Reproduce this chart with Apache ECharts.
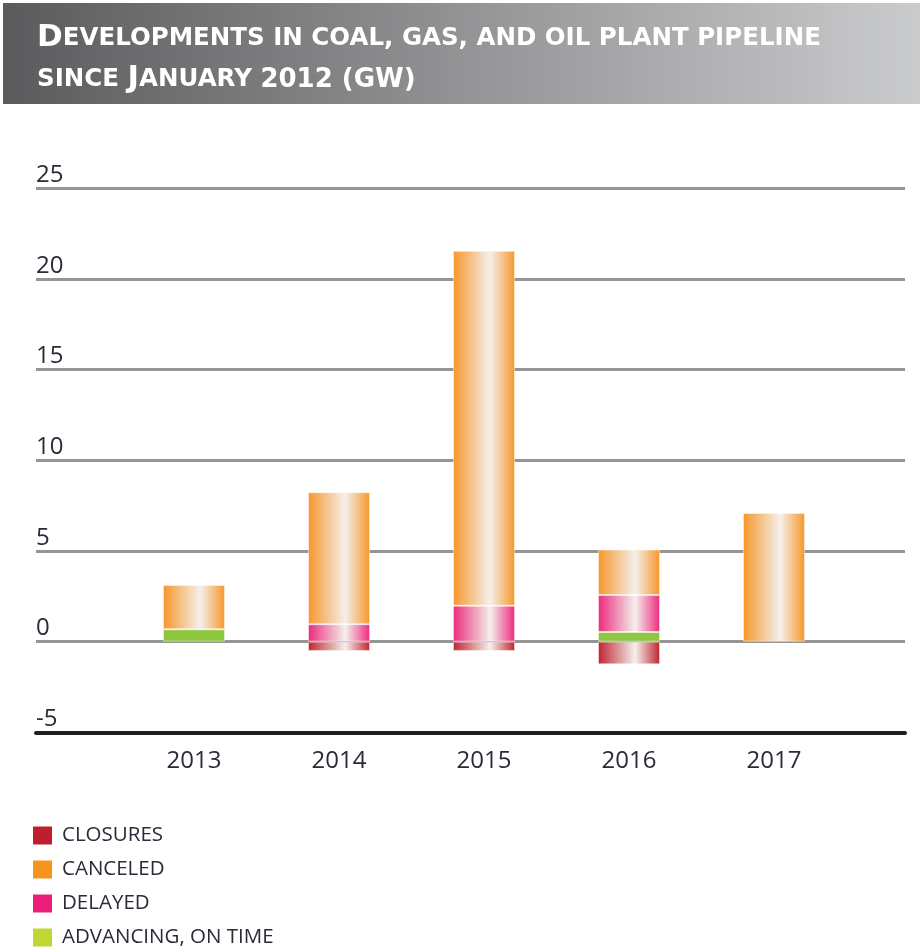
<!DOCTYPE html>
<html>
<head>
<meta charset="utf-8">
<script src="https://cdn.jsdelivr.net/npm/echarts@6/dist/echarts.min.js"></script>
<style>
  html, body { margin: 0; padding: 0; background: #fff; }
  #chart { width: 920px; height: 951px; }
</style>
</head>
<body>
<div id="chart"></div>
<script>
// Pipeline developments by year (GW)
const years = ['2013', '2014', '2015', '2016', '2017'];
const advancing = [0.68, null, null, 0.53, null];
const delayed = [null, 0.96, 1.98, 2.04, null];
const canceled = [2.45, 7.28, 19.57, 2.51, 7.1];
const closures = [null, -0.51, -0.51, -1.25, null];

const yTicks = { min: -5, max: 25, interval: 5 };

const names = ['CLOSURES', 'CANCELED', 'DELAYED', 'ADVANCING, ON TIME'];
const swatch = ['#be1e2d', '#f7941d', '#ed1e79', '#bfd730'];

function shine(base) {
  return {
    type: 'linear', x: 0, y: 0, x2: 1, y2: 0,
    colorStops: [
      { offset: 0, color: base },
      { offset: 0.6, color: '#f4f0ec' },
      { offset: 1, color: base }
    ]
  };
}

const labelFont = "'Open Sans', 'Noto Sans', sans-serif";
const titleFont = "'DejaVu Sans', 'Open Sans', sans-serif";

const chart = echarts.init(document.getElementById('chart'), null, { renderer: 'canvas' });

const barStyle = (color) => ({ color: color, borderColor: 'rgba(255,255,255,0.45)', borderWidth: 1 });

chart.setOption({
  animation: false,
  backgroundColor: '#ffffff',
  graphic: [
    {
      type: 'rect', z: 0,
      shape: { x: 3, y: 3, width: 917, height: 101 },
      style: {
        fill: {
          type: 'linear', x: 0, y: 0, x2: 1, y2: 0,
          colorStops: [
            { offset: 0, color: '#5b5b5d' },
            { offset: 1, color: '#cacbcd' }
          ]
        }
      }
    },
    {
      type: 'text', z: 2, left: 37, top: 22,
      style: {
        text: '{c|D}{s|EVELOPMENTS IN COAL, GAS, AND OIL PLANT PIPELINE}\n{s|SINCE }{c|J}{s|ANUARY }{n|2012 (GW)}',
        fill: '#ffffff',
        rich: {
          c: { fontSize: 31, fontFamily: titleFont, fontWeight: 'bold', fill: '#fff', lineHeight: 41, verticalAlign: 'bottom' },
          s: { fontSize: 24.5, fontFamily: titleFont, fontWeight: 'bold', fill: '#fff', lineHeight: 41, verticalAlign: 'bottom', padding: [0, 0, 1.5, 0] },
          n: { fontSize: 26, fontFamily: titleFont, fontWeight: 'bold', fill: '#fff', lineHeight: 41, verticalAlign: 'bottom', padding: [0, 0, 1.2, 0] }
        }
      }
    }
  ],
  legend: {
    orient: 'vertical',
    left: 33, top: 825, height: 130,
    padding: 0,
    icon: 'rect',
    itemWidth: 19, itemHeight: 18,
    itemGap: 13,
    textStyle: { fontFamily: labelFont, fontSize: 20.5, lineHeight: 18, color: '#2b2a38', padding: [0, 0, 0, 5] },
    data: names.map((n, i) => ({ name: n, itemStyle: { color: swatch[i], borderWidth: 0 } }))
  },
  grid: [
    { left: 121.5, right: 73.5, top: 188.3, bottom: 218.7 },
    { left: 36, right: 15, top: 188.3, bottom: 218.7 }
  ],
  xAxis: [
    {
      type: 'category', gridIndex: 0, data: years,
      axisLine: { show: false }, axisTick: { show: false },
      axisLabel: { margin: 17, fontFamily: labelFont, fontSize: 24, color: '#2b2a38' }
    },
    {
      type: 'value', gridIndex: 1, min: 0, max: 1, position: 'bottom',
      axisLine: { show: true, onZero: false, lineStyle: { color: '#231f20', width: 4 } },
      axisTick: { show: false }, axisLabel: { show: false }, splitLine: { show: false }
    }
  ],
  yAxis: [
    {
      type: 'value', gridIndex: 0, min: yTicks.min, max: yTicks.max, interval: yTicks.interval,
      axisLine: { show: false }, axisTick: { show: false }, axisLabel: { show: false }, splitLine: { show: false }
    },
    {
      type: 'value', gridIndex: 1, min: yTicks.min, max: yTicks.max, interval: yTicks.interval,
      axisLine: { show: false }, axisTick: { show: false },
      axisLabel: {
        inside: true, margin: 0, align: 'left', verticalAlign: 'bottom',
        fontFamily: labelFont, fontSize: 24, color: '#2b2a38', lineHeight: 26
      },
      splitLine: { show: true, lineStyle: { color: '#959595', width: 3 } }
    }
  ],
  series: [
    { name: 'ADVANCING, ON TIME', type: 'bar', stack: 'dev', barWidth: 62, xAxisIndex: 0, yAxisIndex: 0, z: 3,
      itemStyle: barStyle('#8dc63f'), data: advancing },
    { name: 'DELAYED', type: 'bar', stack: 'dev', barWidth: 62, xAxisIndex: 0, yAxisIndex: 0, z: 3,
      itemStyle: barStyle(shine('#ec2a7c')), data: delayed },
    { name: 'CANCELED', type: 'bar', stack: 'dev', barWidth: 62, xAxisIndex: 0, yAxisIndex: 0, z: 3,
      itemStyle: barStyle(shine('#f7962a')), data: canceled },
    { name: 'CLOSURES', type: 'bar', stack: 'dev', barWidth: 62, xAxisIndex: 0, yAxisIndex: 0, z: 3,
      itemStyle: barStyle(shine('#bf2330')), data: closures }
  ]
});
</script>
</body>
</html>
